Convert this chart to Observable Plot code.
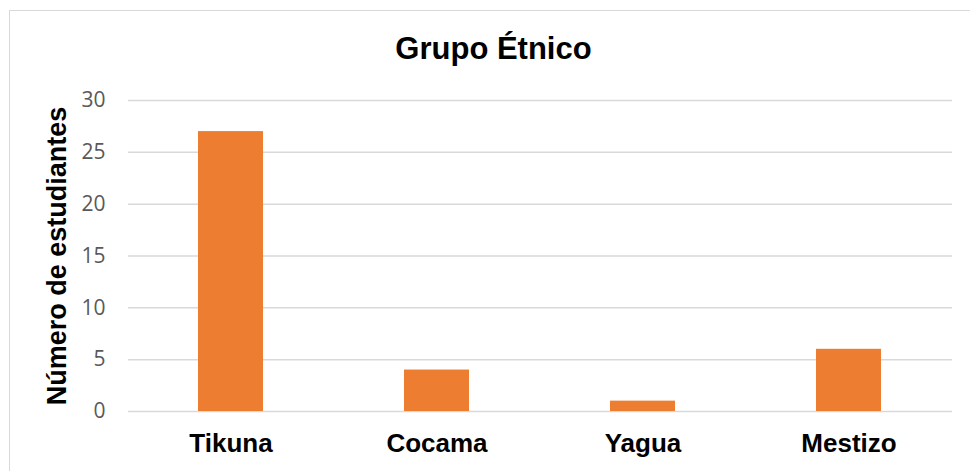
<!DOCTYPE html>
<html><head><meta charset="utf-8">
<script src="https://cdn.jsdelivr.net/npm/d3@7"></script>
<script src="https://cdn.jsdelivr.net/npm/@observablehq/plot@0.6"></script>
<style>
html,body{margin:0;padding:0;background:#fff;}
#wrap{position:relative;width:970px;height:471px;overflow:hidden;}
#frame{position:absolute;left:9px;top:10px;width:980px;height:480px;border:1.5px solid #d9d9d9;box-sizing:border-box;}
#title{position:absolute;left:0;width:987px;top:31px;line-height:31px;text-align:center;font:bold 31px "Liberation Sans",Arial,sans-serif;color:#000;}
#chart{position:absolute;left:0;top:0;}
</style></head>
<body><div id="wrap"><div id="frame"></div><div id="title">Grupo Étnico</div><div id="chart"></div></div>
<script>
const categories = ["Tikuna", "Cocama", "Yagua", "Mestizo"];
const values = [27, 4, 1, 6];
const yTicks = [0, 5, 10, 15, 20, 25, 30];
const data = categories.map((c, i) => ({cat: c, v: values[i]}));

const plot = Plot.plot({
  width: 970, height: 471,
  marginTop: 100, marginBottom: 60, marginLeft: 128, marginRight: 18,
  style: {background: "transparent", overflow: "visible"},
  x: {domain: categories, paddingInner: 0.684, paddingOuter: 0.342, label: null},
  y: {domain: [0, 30], label: null},
  marks: [
    Plot.gridY(yTicks, {stroke: "#d9d9d9", strokeOpacity: 1, strokeWidth: 1.5}),
    Plot.barY(data, {x: "cat", y: "v", fill: "#ED7D31"}),
    Plot.axisY(yTicks, {tickSize: 0, tickPadding: 23, fontSize: 21, fill: "#595959",
      fontFamily: "Open Sans, sans-serif",
      label: "Número de estudiantes", labelAnchor: "center", labelArrow: "none", labelOffset: 82}),
    Plot.axisX({tickSize: 0, tickPadding: 22, fontSize: 26, fontWeight: "bold", fill: "#000",
      fontFamily: "Liberation Sans, Arial, sans-serif", label: null})
  ]
});
plot.querySelectorAll("g[aria-label='y-axis label'] text").forEach(t => {
  t.setAttribute("font-size", 27); t.setAttribute("font-weight", "bold");
  t.setAttribute("fill", "#000"); t.setAttribute("font-family", "Liberation Sans, Arial, sans-serif");
});
document.getElementById("chart").appendChild(plot);
</script></body></html>
